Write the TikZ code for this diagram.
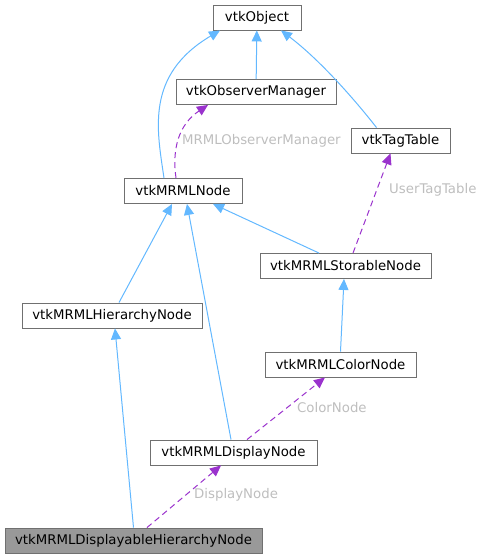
\documentclass[tikz,border=0pt]{standalone}
\usepackage{fontspec}
\setmainfont{DejaVu Sans}
\usetikzlibrary{arrows.meta}
\definecolor{edgeblue}{HTML}{63B8FF}
\definecolor{edgepurple}{HTML}{9A32CD}
\definecolor{boxgray}{HTML}{707070}
\definecolor{mainfill}{HTML}{999999}
\definecolor{labelgray}{HTML}{BEBEBE}

\begin{document}
\begin{tikzpicture}[x=1pt,y=-1pt,font=\fontsize{13.3}{16}\selectfont,
  cls/.style={draw=boxgray,fill=white,line width=0.9pt,minimum height=25pt,inner sep=0pt},
  inherit/.style={edgeblue,line width=1pt,-{Triangle[length=11pt,width=10pt]}},
  uses/.style={edgepurple,line width=1pt,dash pattern=on 6pt off 4pt,-{Triangle[length=11pt,width=10pt]}},
  lbl/.style={labelgray,anchor=west,inner sep=0pt}]
\useasboundingbox (0,0) rectangle (481,559);
\node[cls,minimum width=88pt] (obj) at (257,17.5) {vtkObject};
\node[cls,minimum width=160pt] (obsmgr) at (256,92) {vtkObserverManager};
\node[cls,minimum width=99pt] (tagtable) at (400.5,140.5) {vtkTagTable};
\node[cls,minimum width=118pt] (mrml) at (183,191) {vtkMRMLNode};
\node[cls,minimum width=171pt] (storable) at (345.5,266) {vtkMRMLStorableNode};
\node[cls,minimum width=180pt] (hier) at (112,315.5) {vtkMRMLHierarchyNode};
\node[cls,minimum width=151pt] (color) at (340.5,364.5) {vtkMRMLColorNode};
\node[cls,minimum width=167pt] (display) at (233.5,452.5) {vtkMRMLDisplayNode};
\node[cls,fill=mainfill,minimum width=257pt] (dhn) at (133.5,540.5) {vtkMRMLDisplayableHierarchyNode};

\draw[inherit] (obsmgr) -- (obj);
\draw[inherit] ([xshift=-19pt]mrml.north) .. controls (157,130) and (145,75) .. ([xshift=-37pt]obj.south);
\draw[inherit] ([xshift=-24pt]tagtable.north) .. controls (355,100) and (320,60) .. ([xshift=24pt]obj.south);
\draw[uses] ([xshift=-7pt]mrml.north) .. controls (172,150) and (178,125) .. ([xshift=-48pt]obsmgr.south);
\draw[uses] ([xshift=7.5pt]storable.north) -- ([xshift=-10pt]tagtable.south);
\draw[inherit] ([xshift=7pt]hier.north) -- ([xshift=-11pt]mrml.south);
\draw[inherit] ([xshift=-2.5pt]display.north) -- ([xshift=4pt]mrml.south);
\draw[inherit] ([xshift=-26.5pt]storable.north) -- ([xshift=30pt]mrml.south);
\draw[inherit] (color.north) -- ([xshift=-1.5pt]storable.south);
\draw[uses] ([xshift=13.5pt]display.north) -- ([xshift=-15.5pt]color.south);
\draw[inherit] (dhn.north) -- ([xshift=3pt]hier.south);
\draw[uses] ([xshift=13.5pt]dhn.north) -- ([xshift=-12.5pt]display.south);

\node[lbl] (lobs) at (182,140.5) {MRMLObserverManager};
\node[lbl] (ltag) at (389,190) {UserTagTable};
\node[lbl] (lcolor) at (297,407.5) {ColorNode};
\node[lbl] (ldisplay) at (194,495) {DisplayNode};
\end{tikzpicture}
\end{document}
